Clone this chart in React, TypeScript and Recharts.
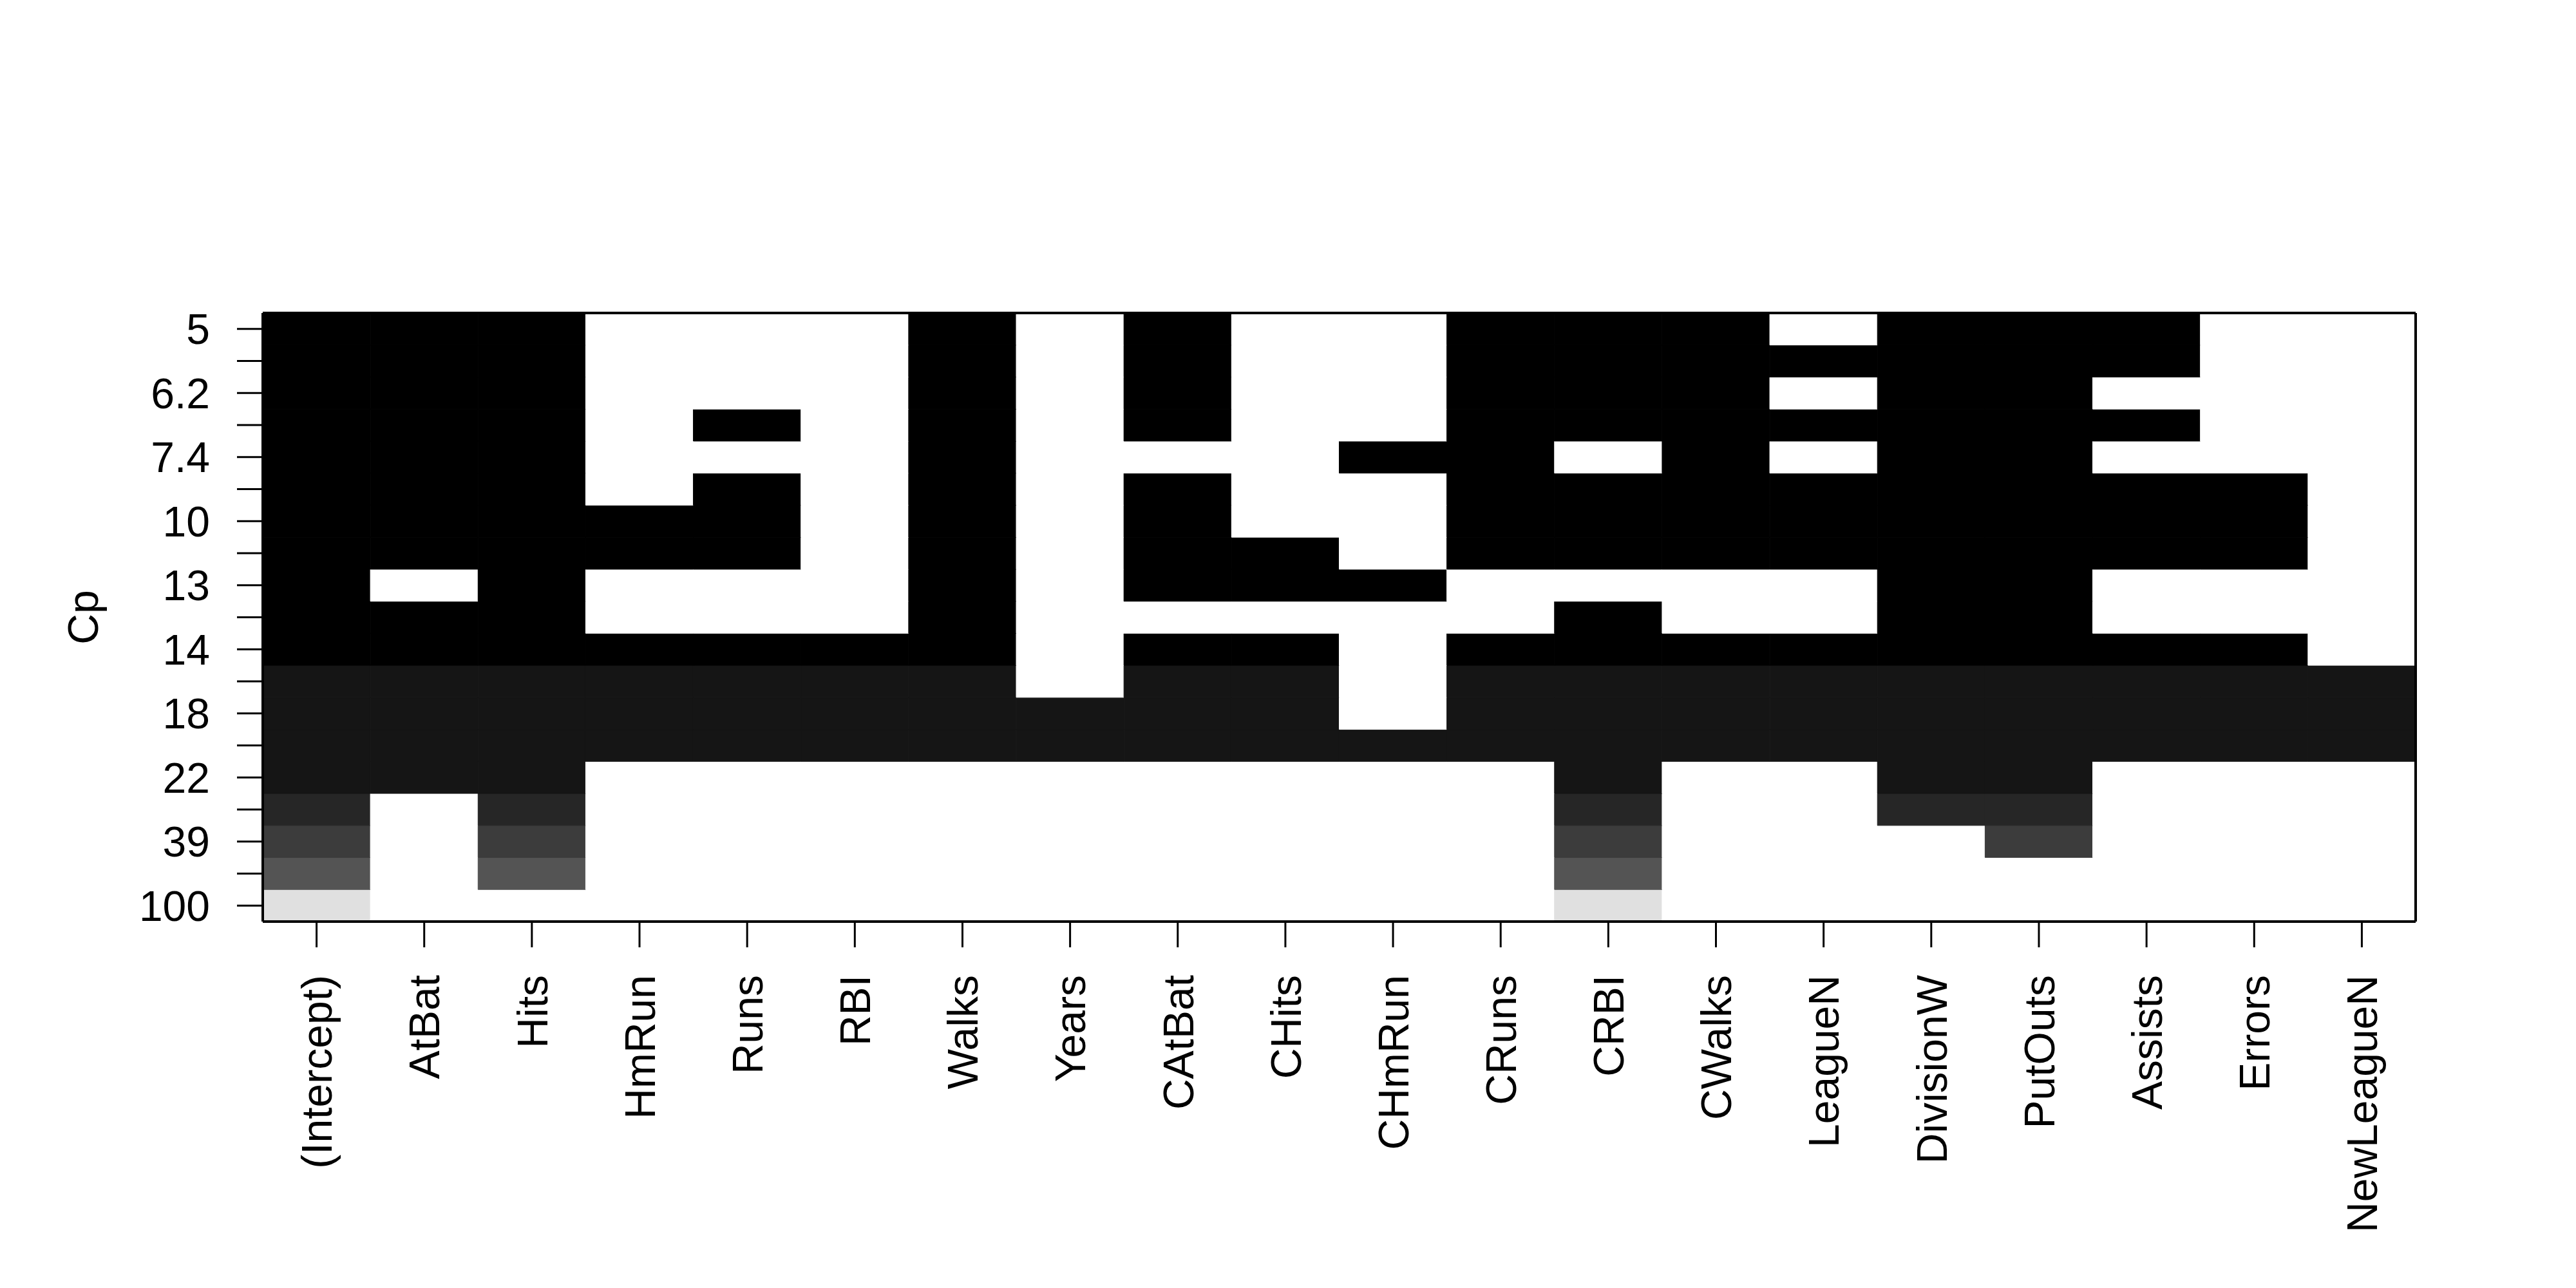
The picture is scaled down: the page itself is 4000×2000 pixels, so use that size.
import React from "react";
import { BarChart, Bar, Cell, XAxis, YAxis, Label } from "recharts";

// variables, left to right
const variables = [
  "(Intercept)", "AtBat", "Hits", "HmRun", "Runs", "RBI", "Walks", "Years",
  "CAtBat", "CHits", "CHmRun", "CRuns", "CRBI", "CWalks", "LeagueN",
  "DivisionW", "PutOuts", "Assists", "Errors", "NewLeagueN",
];

// Cp of each model, best (top row) first
const cpValues = [5.0, 5.9, 6.2, 7.3, 7.4, 9.2, 10, 12, 13, 13.5, 14, 16, 18, 20, 22, 28, 39, 48, 100];

// labels R managed to print (every other row)
const cpTickLabels = ["5", "6.2", "7.4", "10", "13", "14", "18", "22", "39", "100"];

// which variables are in each model, same order as cpValues
const models = [
  "11100010100111011100",
  "11100010100111111100",
  "11100010100111011000",
  "11101010100111111100",
  "11100010001101011000",
  "11101010100111111110",
  "11111010100111111110",
  "11111010110111111110",
  "10100010111000011000",
  "11100010000010011000",
  "11111110110111111110",
  "11111110110111111111",
  "11111111110111111111",
  "11111111111111111111",
  "11100000000010011000",
  "10100000000010011000",
  "10100000000010001000",
  "10100000000010000000",
  "10000000000010000000",
];

const grays = ["#000000", "#151515", "#262626", "#3c3c3c", "#545454", "#6e6e6e", "#8a8a8a", "#a6a6a6", "#c3c3c3", "#e0e0e0"];
const FONT = "'Liberation Sans', Arial, sans-serif";
const boxLine = { stroke: "#000", strokeWidth: 4 };

const nRows = models.length;
const cpMin = Math.min(...cpValues);
const cpMax = Math.max(...cpValues);
const shadeOf = (cp: number) =>
  grays[Math.min(9, Math.floor(((cp - cpMin) / (cpMax - cpMin)) * 10))];

const data = variables.map((name) => {
  const row: Record<string, number | string> = { name };
  models.forEach((_, i) => (row[`r${i}`] = 1));
  return row;
});

const yTicks = models.map((_, i) => nRows - i - 0.5);

function VarTick({ x, y, payload }: any) {
  return (
    <text
      x={x}
      y={y}
      dy="0.36em"
      transform={`rotate(-90, ${x}, ${y})`}
      textAnchor="end"
      fontSize={66}
      fontFamily={FONT}
      fill="#000"
    >
      {payload.value}
    </text>
  );
}

function CpLabel({ viewBox }: any) {
  const x = viewBox.x + 44;
  const y = viewBox.y + viewBox.height / 2;
  return (
    <text x={x} y={y} transform={`rotate(-90, ${x}, ${y})`} textAnchor="middle" fontSize={66} fontFamily={FONT} fill="#000">
      Cp
    </text>
  );
}

export default function App() {
  // bottom row first so the stack grows upwards
  const order = models.map((_, i) => nRows - 1 - i);
  return (
    <div style={{ position: "absolute", left: 0, top: 0, background: "#fff" }}>
      <BarChart
        width={4000}
        height={2000}
        data={data}
        barCategoryGap={0}
        barGap={0}
        margin={{ top: 485, right: 248, left: 108, bottom: 69 }}
      >
        <XAxis
          dataKey="name"
          interval={0}
          height={500}
          tickSize={40}
          tickMargin={43}
          tick={<VarTick />}
          tickLine={{ stroke: "#000", strokeWidth: 3 }}
          axisLine={boxLine}
        />
        <XAxis xAxisId="top" dataKey="name" orientation="top" height={1} tick={false} tickLine={false} axisLine={boxLine} />
        <YAxis
          type="number"
          domain={[0, nRows]}
          ticks={yTicks}
          interval={0}
          width={300}
          tickSize={40}
          tickMargin={42}
          allowDataOverflow
          tickFormatter={(v: number) => {
            const i = Math.round(nRows - 0.5 - v);
            return i % 2 === 0 ? cpTickLabels[i / 2] : "";
          }}
          tick={{ fontSize: 66, fill: "#000", fontFamily: FONT }}
          tickLine={{ stroke: "#000", strokeWidth: 3 }}
          axisLine={boxLine}
        >
          <Label content={<CpLabel />} />
        </YAxis>
        <YAxis yAxisId="right" orientation="right" width={1} domain={[0, nRows]} tick={false} tickLine={false} axisLine={boxLine} />
        {order.map((i) => (
          <Bar key={i} dataKey={`r${i}`} stackId="m" isAnimationActive={false}>
            {variables.map((_, j) => {
              const c = models[i][j] === "1" ? shadeOf(cpValues[i]) : "#ffffff";
              return <Cell key={j} fill={c} stroke={c} strokeWidth={1} />;
            })}
          </Bar>
        ))}
      </BarChart>
    </div>
  );
}
